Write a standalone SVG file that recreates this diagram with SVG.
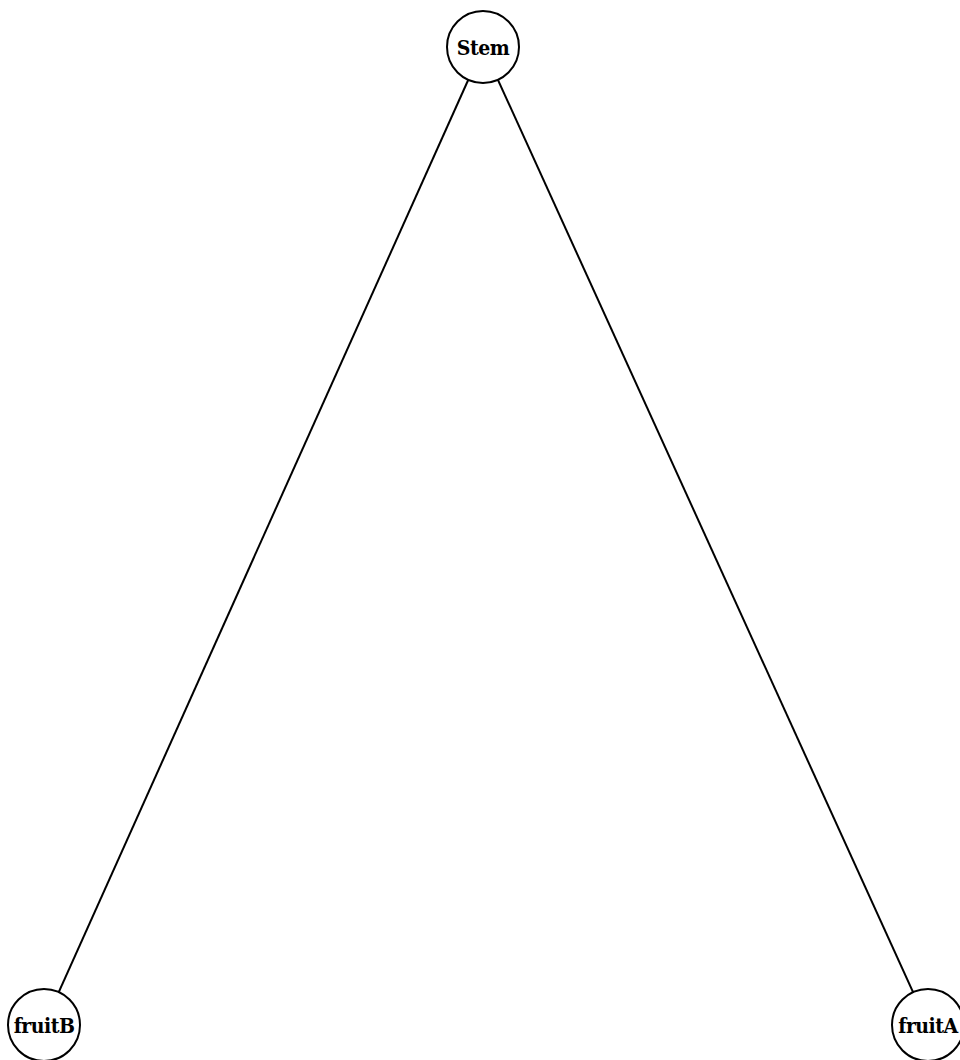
<svg xmlns="http://www.w3.org/2000/svg" width="960" height="1060" viewBox="0 0 960 1060">
<style>
.node circle{fill:#fff;stroke:#000;stroke-width:2}
.node text{font-family:"DejaVu Serif Condensed","DejaVu Serif",serif;font-weight:bold;font-size:21px;text-anchor:middle;dominant-baseline:central;fill:#000;letter-spacing:-0.5px}
.links line{stroke:#000;stroke-width:2}
</style>
<rect width="960" height="1060" fill="#fff"/>
<g class="links">
<line x1="483" y1="47" x2="44" y2="1025"/>
<line x1="483" y1="47" x2="928" y2="1025"/>
</g>
<g id="node-Stem" class="node"><circle cx="483" cy="47" r="36"/><text x="483" y="47">Stem</text></g>
<g id="node-fruitB" class="node"><circle cx="44" cy="1025" r="36"/><text x="44" y="1025">fruitB</text></g>
<g id="node-fruitA" class="node"><circle cx="928" cy="1025" r="36"/><text x="928" y="1025">fruitA</text></g>
</svg>
